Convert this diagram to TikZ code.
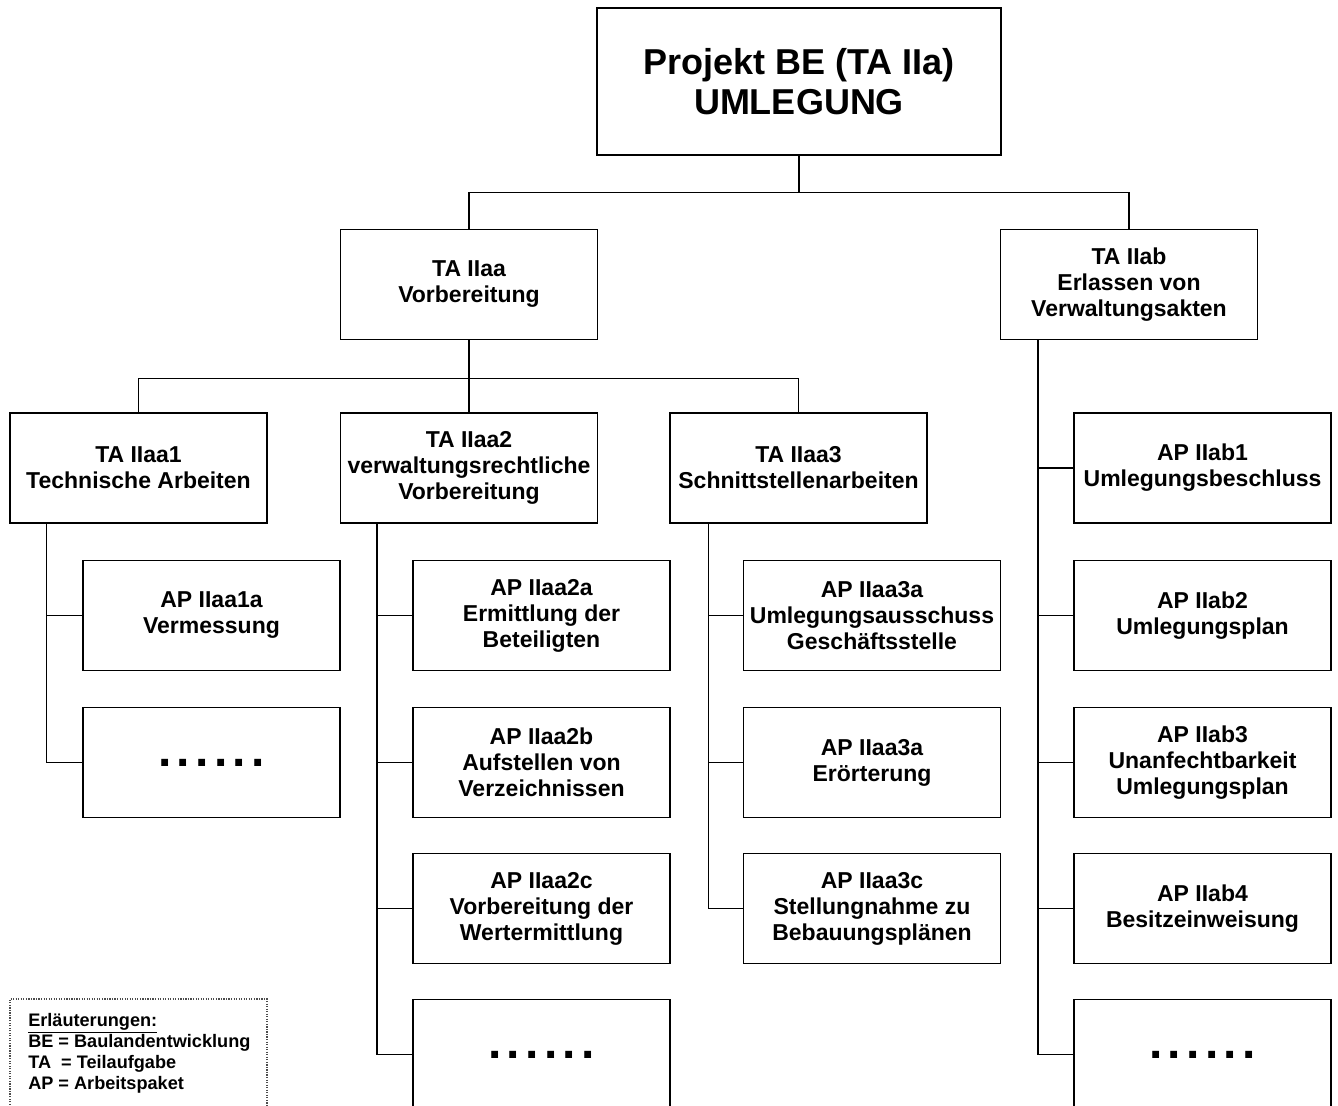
\documentclass[tikz,border=0pt]{standalone}
\usepackage{fontspec}
\setmainfont{Liberation Sans}
\usetikzlibrary{calc}
\newcommand\mydots{.\kern4pt.\kern4pt.\kern4pt.\kern4pt.\kern4pt.}
\begin{document}
\begin{tikzpicture}[x=0.75pt,y=-0.75pt,
  box/.style={draw, line width=1.1pt, minimum width=192.75pt, minimum height=82.5pt,
    align=center, inner sep=0pt, font=\fontsize{17.25}{19.5}\selectfont\bfseries},
  dotsbox/.style={box, font=\fontsize{36}{36}\selectfont\bfseries},
  link/.style={line width=1.1pt},
  legend/.style={draw=black!70, densely dotted, line width=0.9pt}]
\useasboundingbox (0,0) rectangle (1338,1106);
\clip (0,0) rectangle (1338,1106);
% top
\node[box, minimum width=303pt, minimum height=110.25pt, font=\fontsize{27}{30}\selectfont\bfseries] (top) at (799,81.5) {Projekt BE (TA IIa)\\UMLEGUNG};
% level 2
\node[box] (taa) at (469,284.5) {TA IIaa\\Vorbereitung};
\node[box] (tab) at (1129,284.5) {TA IIab\\Erlassen von\\Verwaltungsakten};
% level 3
\node[box] (t1) at (138.5,468) {TA IIaa1\\Technische Arbeiten};
\node[box] (t2) at (469,468) {TA IIaa2\\verwaltungsrechtliche\\Vorbereitung};
\node[box] (t3) at (798.5,468) {TA IIaa3\\Schnittstellenarbeiten};
% column IIaa1
\node[box] (a1a) at (211.5,615.5) {AP IIaa1a\\Vermessung};
\node[dotsbox] (a1b) at (211.5,762.5) {\mydots};
% column IIaa2
\node[box] (a2a) at (541.5,615.5) {AP IIaa2a\\Ermittlung der\\Beteiligten};
\node[box] (a2b) at (541.5,762.5) {AP IIaa2b\\Aufstellen von\\Verzeichnissen};
\node[box] (a2c) at (541.5,908.5) {AP IIaa2c\\Vorbereitung der\\Wertermittlung};
\node[dotsbox] (a2d) at (541.5,1054.5) {\mydots};
% column IIaa3
\node[box] (a3a) at (872,615.5) {AP IIaa3a\\Umlegungsausschuss\\Geschäftsstelle};
\node[box] (a3b) at (872,762.5) {AP IIaa3a\\Erörterung};
\node[box] (a3c) at (872,908.5) {AP IIaa3c\\Stellungnahme zu\\Bebauungsplänen};
% column IIab
\node[box] (b1) at (1202.5,468) {AP IIab1\\Umlegungsbeschluss};
\node[box] (b2) at (1202.5,615.5) {AP IIab2\\Umlegungsplan};
\node[box] (b3) at (1202.5,762.5) {AP IIab3\\Unanfechtbarkeit\\Umlegungsplan};
\node[box] (b4) at (1202.5,908.5) {AP IIab4\\Besitzeinweisung};
\node[dotsbox] (b5) at (1202.5,1054.5) {\mydots};
% connectors
\draw[link] (top.south) -- ++(0,37) -| (taa.north);
\draw[link] (top.south) -- ++(0,37) -| (tab.north);
\draw[link] (taa.south) -- ++(0,38) -| (t1.north);
\draw[link] (taa.south) -- ++(0,38) -| (t3.north);
\draw[link] (taa.south) -- (t2.north);
\draw[link] ($(t1.south west)+(37,0)$) |- (a1a.west);
\draw[link] ($(t1.south west)+(37,0)$) |- (a1b.west);
\draw[link] ($(t2.south west)+(37,0)$) |- (a2a.west);
\draw[link] ($(t2.south west)+(37,0)$) |- (a2b.west);
\draw[link] ($(t2.south west)+(37,0)$) |- (a2c.west);
\draw[link] ($(t2.south west)+(37,0)$) |- (a2d.west);
\draw[link] ($(t3.south west)+(39,0)$) |- (a3a.west);
\draw[link] ($(t3.south west)+(39,0)$) |- (a3b.west);
\draw[link] ($(t3.south west)+(39,0)$) |- (a3c.west);
\draw[link] ($(tab.south west)+(38,0)$) |- (b1.west);
\draw[link] ($(tab.south west)+(38,0)$) |- (b2.west);
\draw[link] ($(tab.south west)+(38,0)$) |- (b3.west);
\draw[link] ($(tab.south west)+(38,0)$) |- (b4.west);
\draw[link] ($(tab.south west)+(38,0)$) |- (b5.west);
% legend
\draw[legend] (10,1120) -- (10,999) -- (267,999) -- (267,1120);
\node[anchor=north west, align=left, inner sep=0pt, font=\fontsize{13.6}{15.75}\selectfont\bfseries] (leg) at (28,1013)
  {\underline{Erläuterungen:}\\BE = Baulandentwicklung\\TA\ \ = Teilaufgabe\\AP = Arbeitspaket};
\end{tikzpicture}
\end{document}
